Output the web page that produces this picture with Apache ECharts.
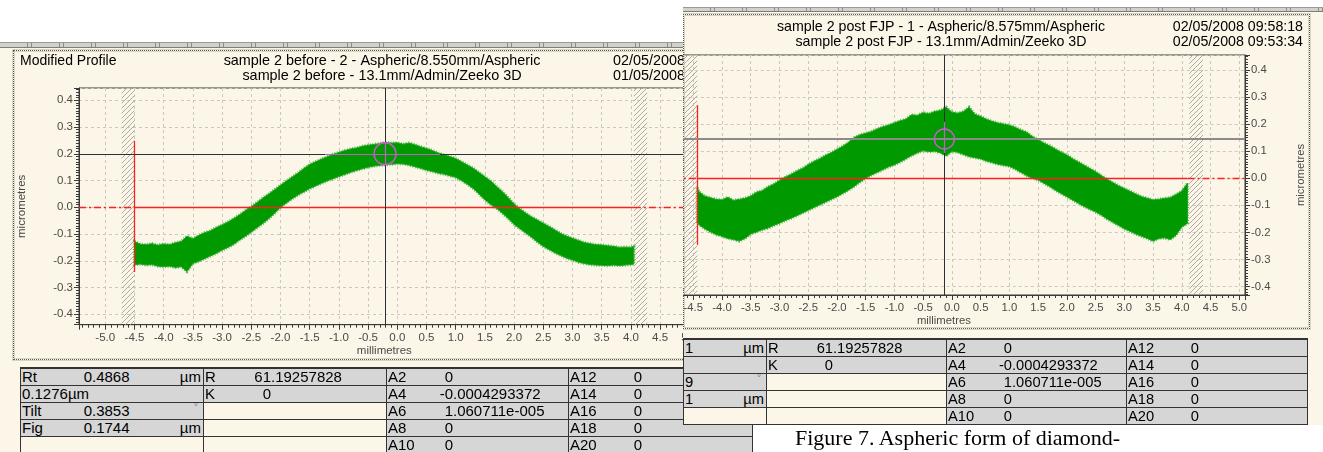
<!DOCTYPE html>
<html>
<head>
<meta charset="utf-8">
<title>Aspheric form profiles</title>
<script src="https://cdn.jsdelivr.net/npm/echarts@6.0.0/dist/echarts.min.js"></script>
<style>
  html, body { margin: 0; padding: 0; background: #ffffff; }
  body { width: 1323px; height: 452px; position: relative; overflow: hidden;
         font-family: "Liberation Sans", Arial, sans-serif; }
  .win { position: absolute; overflow: hidden; background: #fbf6e7; }
  .toolbar { position: absolute; left: 0; right: 0; background: #d3d1cb;
             border-top: 1px solid #9c9a95; border-bottom: 1px solid #7e7c78;
             background-image: repeating-linear-gradient(90deg, transparent 0 27px, #8e8c88 27px 28px, transparent 28px 31px, #8e8c88 31px 32px); }
  .frame { position: absolute; box-sizing: border-box; border: 1px dotted #555;
           box-shadow: inset 0 0 0 1px #d9d3c4, 0 0 0 1px #d9d3c4; }
  .chart { position: absolute; }
  .tbl { position: absolute; box-sizing: border-box; border-top: 2px solid #333; border-left: 1px solid #333; }
  .cell { position: absolute; box-sizing: border-box; border-right: 1px solid #333; border-bottom: 1px solid #333;
          color: #000; white-space: nowrap; overflow: hidden; }
  .cell span { position: absolute; top: 0; }
  .caption { position: absolute; left: 795px; top: 427px; z-index: 20; white-space: nowrap;
             font-family: "Liberation Serif", "Times New Roman", serif; font-size: 22px; line-height: 22px; color: #000; }
</style>
</head>
<body>
<div id="winBefore" class="win" style="left:0;top:42px;width:753px;height:410px;z-index:1;">
  <div class="toolbar" style="top:0;height:4px;"></div>
  <div class="frame" style="left:13px;top:8px;width:800px;height:310px;"></div>
</div>
<div id="chartBefore" class="chart" style="left:0;top:0;width:760px;height:452px;z-index:2;"></div>
<div id="tableBeforeHost" style="position:absolute;left:0;top:0;z-index:3;"></div>

<div id="winPost" class="win" style="left:683px;top:0;width:640px;height:425px;z-index:10;background:#fbf6e7;">
  <div style="position:absolute;left:0;top:0;width:640px;height:7px;background:#ffffff;"></div>
  <div class="toolbar" style="top:7px;height:3px;"></div>
  <div class="frame" style="left:0;top:14px;width:627px;height:315px;"></div>
  <div id="chartPost" class="chart" style="left:-100px;top:0;width:740px;height:340px;"></div>
  <div id="tablePostHost" style="position:absolute;left:0;top:0;"></div>
</div>

<div class="caption">Figure 7. Aspheric form of diamond-</div>

<script>
// ---------------- measured profile envelopes (x in mm, height in µm) ----------------
const beforeX = [
  -4.5, -4.4, -4.3, -4.2, -4.1, -4.0, -3.9, -3.8, -3.7, -3.6,
  -3.5, -3.4, -3.3, -3.2, -3.1, -3.0, -2.9, -2.8, -2.7, -2.6,
  -2.5, -2.4, -2.3, -2.2, -2.1, -2.0, -1.9, -1.8, -1.7, -1.6,
  -1.5, -1.4, -1.3, -1.2, -1.1, -1.0, -0.9, -0.8, -0.7, -0.6,
  -0.5, -0.4, -0.3, -0.2, -0.1, 0.0, 0.1, 0.2, 0.3, 0.4,
  0.5, 0.6, 0.7, 0.8, 0.9, 1.0, 1.1, 1.2, 1.3, 1.4,
  1.5, 1.6, 1.7, 1.8, 1.9, 2.0, 2.1, 2.2, 2.3, 2.4,
  2.5, 2.6, 2.7, 2.8, 2.9, 3.0, 3.1, 3.2, 3.3, 3.4,
  3.5, 3.6, 3.7, 3.8, 3.9, 4.0, 4.05
];
const beforeUpper = [
  -0.128, -0.138, -0.140, -0.136, -0.142, -0.137, -0.140, -0.133, -0.128, -0.108,
  -0.118, -0.105, -0.095, -0.088, -0.076, -0.066, -0.055, -0.042, -0.028, -0.012,
  0.002, 0.018, 0.035, 0.050, 0.066, 0.082, 0.098, 0.113, 0.128, 0.145,
  0.160, 0.170, 0.180, 0.189, 0.198, 0.205, 0.212, 0.218, 0.222, 0.228,
  0.232, 0.235, 0.238, 0.242, 0.240, 0.241, 0.236, 0.240, 0.234, 0.226,
  0.220, 0.212, 0.203, 0.196, 0.190, 0.182, 0.170, 0.158, 0.146, 0.130,
  0.114, 0.098, 0.078, 0.058, 0.036, 0.012, -0.006, -0.022, -0.036, -0.048,
  -0.060, -0.072, -0.085, -0.098, -0.108, -0.116, -0.124, -0.132, -0.136, -0.140,
  -0.141, -0.144, -0.146, -0.150, -0.149, -0.150, -0.146
];
const beforeLower = [
  -0.215, -0.212, -0.216, -0.214, -0.220, -0.222, -0.220, -0.225, -0.222, -0.240,
  -0.210, -0.202, -0.192, -0.182, -0.172, -0.160, -0.150, -0.138, -0.122, -0.108,
  -0.092, -0.076, -0.060, -0.042, -0.022, 0.000, 0.016, 0.032, 0.046, 0.058,
  0.070, 0.080, 0.090, 0.099, 0.107, 0.115, 0.123, 0.131, 0.138, 0.144,
  0.150, 0.154, 0.157, 0.159, 0.161, 0.163, 0.162, 0.158, 0.152, 0.146,
  0.139, 0.134, 0.128, 0.124, 0.118, 0.112, 0.100, 0.086, 0.070, 0.050,
  0.028, 0.010, -0.004, -0.022, -0.042, -0.064, -0.080, -0.096, -0.112, -0.130,
  -0.146, -0.158, -0.170, -0.180, -0.190, -0.197, -0.205, -0.210, -0.214, -0.216,
  -0.217, -0.218, -0.216, -0.218, -0.216, -0.214, -0.212
];

const postX = [
  -4.43, -4.4, -4.3, -4.2, -4.1, -4.0, -3.9, -3.8, -3.7, -3.6,
  -3.5, -3.4, -3.3, -3.2, -3.1, -3.0, -2.9, -2.8, -2.7, -2.6,
  -2.5, -2.4, -2.3, -2.2, -2.1, -2.0, -1.9, -1.8, -1.7, -1.6,
  -1.5, -1.4, -1.3, -1.2, -1.1, -1.0, -0.9, -0.8, -0.7, -0.6,
  -0.5, -0.4, -0.3, -0.2, -0.1, 0.0, 0.1, 0.2, 0.3, 0.4,
  0.5, 0.6, 0.7, 0.8, 0.9, 1.0, 1.1, 1.2, 1.3, 1.4,
  1.5, 1.6, 1.7, 1.8, 1.9, 2.0, 2.1, 2.2, 2.3, 2.4,
  2.5, 2.6, 2.7, 2.8, 2.9, 3.0, 3.1, 3.2, 3.3, 3.4,
  3.5, 3.6, 3.7, 3.8, 3.9, 4.0, 4.1
];
const postUpper = [
  -0.035, -0.050, -0.066, -0.072, -0.078, -0.080, -0.070, -0.082, -0.078, -0.074,
  -0.066, -0.052, -0.046, -0.032, -0.022, -0.008, 0.004, 0.014, 0.026, 0.036,
  0.050, 0.062, 0.072, 0.084, 0.094, 0.106, 0.118, 0.132, 0.150, 0.160,
  0.166, 0.172, 0.182, 0.190, 0.196, 0.204, 0.212, 0.218, 0.234, 0.232,
  0.242, 0.238, 0.246, 0.250, 0.262, 0.244, 0.240, 0.246, 0.262, 0.236,
  0.228, 0.218, 0.210, 0.204, 0.200, 0.196, 0.188, 0.178, 0.170, 0.154,
  0.142, 0.130, 0.120, 0.108, 0.096, 0.086, 0.072, 0.060, 0.048, 0.036,
  0.024, 0.010, -0.004, -0.016, -0.028, -0.038, -0.048, -0.058, -0.068, -0.074,
  -0.080, -0.078, -0.074, -0.072, -0.060, -0.048, -0.018
];
const postLower = [
  -0.160, -0.172, -0.186, -0.198, -0.208, -0.214, -0.222, -0.226, -0.232, -0.222,
  -0.206, -0.198, -0.190, -0.184, -0.174, -0.166, -0.156, -0.148, -0.138, -0.128,
  -0.118, -0.108, -0.098, -0.088, -0.078, -0.068, -0.056, -0.044, -0.030, -0.014,
  0.000, 0.012, 0.022, 0.032, 0.042, 0.050, 0.060, 0.072, 0.084, 0.094,
  0.102, 0.098, 0.100, 0.094, 0.082, 0.100, 0.096, 0.088, 0.080, 0.076,
  0.072, 0.064, 0.058, 0.052, 0.048, 0.044, 0.034, 0.022, 0.010, 0.000,
  -0.006, -0.018, -0.030, -0.044, -0.056, -0.068, -0.080, -0.092, -0.104, -0.114,
  -0.124, -0.136, -0.150, -0.162, -0.174, -0.186, -0.196, -0.206, -0.214, -0.222,
  -0.232, -0.222, -0.220, -0.226, -0.210, -0.180, -0.166
];

// ---------------- axis extents ----------------
const beforeXRange = [-5.45, 5.45];
const beforeYRange = [-0.439, 0.446];
const postXRange = [-5.1, 5.1];
const postYRange = [-0.431, 0.455];

// ---------------- cursors, fit span, masked ends ----------------
const beforeCursor = [-0.21, 0.2];
const postCursor = [-0.13, 0.145];
const beforeCursorTrace = [-1.24, 0.73];
const postCursorTick = [0.093, 0.208];
const beforeFitSpan = [-4.5, 4.05];
const postFitSpan = [-4.43, 4.1];
const beforeEdgeMark = [-0.242, 0.248];
const postEdgeMark = [-0.246, 0.27];
const beforeMasks = [[-4.72, -4.5], [4.05, 4.28]];
const postMasks = [[-4.72, -4.43], [4.13, 4.37]];

// ---------------- header texts ----------------
const beforeHeading = 'Modified Profile';
const beforeTitles = ['sample 2 before - 2 - Aspheric/8.550mm/Aspheric', 'sample 2 before - 13.1mm/Admin/Zeeko 3D'];
const beforeDates = ['02/05/2008', '01/05/2008'];
const postTitles = ['sample 2 post FJP - 1 - Aspheric/8.575mm/Aspheric', 'sample 2 post FJP - 13.1mm/Admin/Zeeko 3D'];
const postDates = ['02/05/2008 09:58:18', '02/05/2008 09:53:34'];
const xAxisName = 'millimetres';
const yAxisName = 'micrometres';

// ---------------- result tables: [label, value, unit] ----------------
const beforeFitColumn = [['Rt', '0.4868', 'µm'], ['0.1276µm', '', ''], ['Tilt', '0.3853', '°'], ['Fig', '0.1744', 'µm'], ['', '', '']];
const postFitColumn = [['', '1', 'µm'], ['', '', ''], ['', '9', '°'], ['', '1', 'µm'], ['', '', '']];
const surfaceColumn = [['R', '61.19257828', ''], ['K', '0', ''], ['', '', ''], ['', '', ''], ['', '', '']];
const coeffColumnLow = [['A2', '0', ''], ['A4', '-0.0004293372', ''], ['A6', '1.060711e-005', ''], ['A8', '0', ''], ['A10', '0', '']];
const coeffColumnHigh = [['A12', '0', ''], ['A14', '0', ''], ['A16', '0', ''], ['A18', '0', ''], ['A20', '0', '']];

// ---------------- drawing helpers ----------------
const FONT = '"Liberation Sans", Arial, sans-serif';

function hatchImage() {
  const c = document.createElement('canvas');
  c.width = 5; c.height = 5;
  const g = c.getContext('2d');
  g.strokeStyle = '#aeaba4';
  g.lineWidth = 1;
  g.beginPath();
  g.moveTo(-1, 6); g.lineTo(6, -1);
  g.moveTo(-1, 1); g.lineTo(1, -1);
  g.moveTo(4, 6); g.lineTo(6, 4);
  g.stroke();
  return c;
}
const hatch = { image: hatchImage(), repeat: 'repeat' };

function segment(a, b, style) {
  return [{ coord: a, lineStyle: style }, { coord: b, lineStyle: style }];
}

function panelOption(p) {
  const labelStyle = { color: '#4a4a4a', fontSize: p.axisFont, fontFamily: FONT };
  const fmt = v => (Math.abs(v) < 1e-9 ? 0 : v).toFixed(1);
  const yr = p.yRange, xr = p.xRange;
  const red = '#ff1f1f';
  const dashDot = [7, 3, 2, 3];

  // reference lines that sit beneath the profile
  const underLines = [
    segment([p.fit[0], 0], [p.fit[1], 0], { color: red, width: 1.3, type: 'solid' }),
    segment([xr[0], 0], [p.fit[0], 0], { color: red, width: 1.3, type: dashDot }),
    segment([p.fit[1], 0], [xr[1], 0], { color: red, width: 1.3, type: dashDot }),
    segment([p.fit[0], p.edge[0]], [p.fit[0], p.edge[1]], { color: red, width: 1.3, type: 'solid' })
  ];
  // cursor drawn above the profile
  const cursorLines = [
    segment([xr[0], p.cursor[1]], [xr[1], p.cursor[1]], p.cursorHStyle),
    segment([p.cursor[0], yr[0]], [p.cursor[0], yr[1]], { color: '#2b3038', width: 1, type: 'solid' })
  ].concat(p.extraMagenta);

  return {
    animation: false,
    grid: {
      left: p.grid[0], top: p.grid[1], width: p.grid[2], height: p.grid[3],
      show: true, borderColor: '#3a3a3a', borderWidth: 1, backgroundColor: 'transparent',
      containLabel: false, outerBoundsMode: 'none'
    },
    xAxis: {
      type: 'value', min: xr[0], max: xr[1], minInterval: 0.5, maxInterval: 0.5, splitNumber: 20,
      position: 'bottom',
      axisLine: { show: true, onZero: false, lineStyle: { color: '#3a3a3a' } },
      axisTick: { show: true, length: 5, lineStyle: { color: '#3a3a3a' } },
      minorTick: { show: true, splitNumber: 5, length: 3, lineStyle: { color: '#3a3a3a' } },
      splitLine: { show: true, lineStyle: { color: '#cdc8bd', type: [3, 3] } },
      axisLabel: Object.assign({ margin: 7, showMinLabel: false, showMaxLabel: false, formatter: fmt }, labelStyle),
      name: xAxisName, nameLocation: 'middle', nameGap: p.xNameGap, nameMoveOverlap: false,
      nameTextStyle: Object.assign({ padding: [0, p.xNameShift, 0, 0] }, labelStyle)
    },
    yAxis: {
      type: 'value', position: p.yPos, min: yr[0], max: yr[1], minInterval: 0.1, maxInterval: 0.1, splitNumber: 9,
      axisLine: { show: true, onZero: false, lineStyle: { color: '#3a3a3a' } },
      axisTick: { show: true, length: 5, lineStyle: { color: '#3a3a3a' } },
      minorTick: { show: true, splitNumber: 10, length: 3, lineStyle: { color: '#3a3a3a' } },
      splitLine: { show: true, lineStyle: { color: '#cdc8bd', type: [3, 3] } },
      axisLabel: Object.assign({ margin: 6, showMinLabel: false, showMaxLabel: false, formatter: fmt }, labelStyle),
      name: yAxisName, nameLocation: 'middle', nameRotate: 90, nameGap: p.yNameGap,
      nameTextStyle: labelStyle
    },
    graphic: p.texts,
    series: [
      {
        type: 'line', data: [p.cursor], symbol: 'none', silent: true, z: 1,
        lineStyle: { opacity: 0 },
        markArea: {
          silent: true,
          itemStyle: { color: hatch, opacity: 1, borderWidth: 0 },
          data: p.masks.map(m => [{ coord: [m[0], yr[0]] }, { coord: [m[1], yr[1]] }])
        },
        markLine: { silent: true, symbol: ['none', 'none'], label: { show: false }, data: underLines }
      },
      {
        type: 'custom', coordinateSystem: 'cartesian2d', silent: true, z: 2, clip: true,
        data: p.xs.map((x, i) => [x, p.lo[i], p.hi[i]]),
        encode: { x: 0, y: [1, 2] },
        renderItem: (params, api) => {
          if (params.dataIndex !== 0) return null;
          const top = p.xs.map((x, i) => api.coord([x, p.hi[i]]));
          const bottom = p.xs.map((x, i) => api.coord([x, p.lo[i]])).reverse();
          const pts = top.concat(bottom);
          return {
            type: 'group',
            children: [
              { type: 'polygon', shape: { points: pts },
                style: { fill: 'none', stroke: '#5cbd5c', lineWidth: 3.2, lineDash: [1, 1.6] } },
              { type: 'polygon', shape: { points: pts },
                style: { fill: '#009a00', stroke: '#1fa51f', lineWidth: 1 } }
            ]
          };
        }
      },
      {
        type: 'line', data: [p.cursor], symbol: 'none', silent: true, z: 3,
        lineStyle: { opacity: 0 },
        markLine: { silent: true, symbol: ['none', 'none'], label: { show: false }, data: cursorLines },
        markPoint: {
          silent: true, label: { show: false },
          data: [{
            coord: p.cursor, symbol: 'circle', symbolSize: p.ring,
            itemStyle: { color: 'rgba(0,0,0,0)', borderColor: '#c95ccb', borderWidth: 1.4 }
          }]
        }
      }
    ]
  };
}

function textEl(x, y, text, size, align) {
  return { type: 'text', x: x, y: y, silent: true, z: 10,
           style: { text: text, font: size + 'px ' + FONT, fill: '#000', align: align, verticalAlign: 'middle' } };
}

const magenta = { color: '#c95ccb', width: 1.2, type: 'solid' };

// ---------------- left panel: before polishing ----------------
const chartBefore = echarts.init(document.getElementById('chartBefore'), null, { renderer: 'canvas' });
chartBefore.setOption(panelOption({
  grid: [79, 88, 636.6, 236.7],
  xRange: beforeXRange, yRange: beforeYRange, yPos: 'left',
  xs: beforeX, hi: beforeUpper, lo: beforeLower,
  fit: beforeFitSpan, edge: beforeEdgeMark, masks: beforeMasks,
  cursor: beforeCursor, ring: 22,
  cursorHStyle: { color: '#2b3038', width: 1, type: 'solid' },
  extraMagenta: [
    segment([beforeCursorTrace[0], beforeCursor[1]], [beforeCursorTrace[1], beforeCursor[1]], magenta),
    segment([beforeCursor[0], beforeCursor[1] - 0.042], [beforeCursor[0], beforeCursor[1] + 0.042], magenta)
  ],
  axisFont: 11.5, xNameGap: 20, xNameShift: 26, yNameGap: 51,
  texts: [
    textEl(20, 61.5, beforeHeading, 14, 'left'),
    textEl(382, 61.5, beforeTitles[0], 14.4, 'center'),
    textEl(382, 76, beforeTitles[1], 14.4, 'center'),
    textEl(613, 61.5, beforeDates[0], 14.4, 'left'),
    textEl(613, 76, beforeDates[1], 14.4, 'left')
  ]
}));

// ---------------- right panel: after polishing ----------------
const chartPost = echarts.init(document.getElementById('chartPost'), null, { renderer: 'canvas' });
chartPost.setOption(panelOption({
  grid: [75.75, 55, 586.25, 240],
  xRange: postXRange, yRange: postYRange, yPos: 'right',
  xs: postX, hi: postUpper, lo: postLower,
  fit: postFitSpan, edge: postEdgeMark, masks: postMasks,
  cursor: postCursor, ring: 20,
  cursorHStyle: { color: '#8b8b8b', width: 2, type: 'solid' },
  extraMagenta: [
    segment([postCursor[0], postCursorTick[0]], [postCursor[0], postCursorTick[1]], magenta)
  ],
  axisFont: 11.3, xNameGap: 20, xNameShift: 16, yNameGap: 50,
  texts: [
    textEl(358, 27.5, postTitles[0], 14.2, 'center'),
    textEl(358, 42.5, postTitles[1], 14.2, 'center'),
    textEl(720, 27.5, postDates[0], 14.2, 'right'),
    textEl(720, 42.5, postDates[1], 14.2, 'right')
  ]
}));

// ---------------- result tables ----------------
const measureCtx = document.createElement('canvas').getContext('2d');

function drawTable(host, layout, columns) {
  measureCtx.font = layout.font + 'px ' + FONT;
  const edges = layout.edges;
  const t = document.createElement('div');
  t.className = 'tbl';
  t.style.left = edges[0] + 'px';
  t.style.top = layout.top + 'px';
  t.style.width = (edges[edges.length - 1] - edges[0] + 1) + 'px';
  t.style.height = (layout.rowH * 5 + 2) + 'px';
  host.appendChild(t);
  columns.forEach((col, ci) => {
    col.forEach((cell, ri) => {
      const d = document.createElement('div');
      d.className = 'cell';
      const w = edges[ci + 1] - edges[ci];
      d.style.left = (edges[ci] - edges[0]) + 'px';
      d.style.top = (ri * layout.rowH) + 'px';
      d.style.width = w + 'px';
      d.style.height = layout.rowH + 'px';
      d.style.lineHeight = (layout.rowH - 1) + 'px';
      d.style.fontSize = layout.font + 'px';
      d.style.background = ri < layout.shaded[ci] ? '#d6d6d6' : 'transparent';
      const [label, value, unit] = cell;
      if (label) {
        const s = document.createElement('span');
        s.textContent = label; s.style.left = '1px';
        d.appendChild(s);
      }
      if (value) {
        const s = document.createElement('span');
        s.textContent = value;
        const anchor = layout.anchors[ci];
        if (anchor == null) {
          s.style.left = '1px';
        } else {
          const intPart = value.split('.')[0];
          s.style.left = (anchor - measureCtx.measureText(intPart).width) + 'px';
        }
        d.appendChild(s);
      }
      if (unit) {
        const s = document.createElement('span');
        s.textContent = unit;
        if (unit === '°') {
          s.style.right = '5px'; s.style.top = '-4px'; s.style.fontSize = '10px'; s.style.color = '#808080';
        } else {
          s.style.right = '2px';
        }
        d.appendChild(s);
      }
      t.appendChild(d);
    });
  });
}

drawTable(document.getElementById('tableBeforeHost'), {
  edges: [20, 203, 386, 568, 752], top: 366.5, rowH: 17, font: 15,
  anchors: [71, 67, 66, 73], shaded: [4, 2, 5, 5]
}, [beforeFitColumn, surfaceColumn, coeffColumnLow, coeffColumnHigh]);

drawTable(document.getElementById('tablePostHost'), {
  edges: [0, 83, 263, 443, 624], top: 337.5, rowH: 17, font: 14.7,
  anchors: [null, 66, 65, 72], shaded: [4, 2, 5, 5]
}, [postFitColumn, surfaceColumn, coeffColumnLow, coeffColumnHigh]);
</script>
</body>
</html>
